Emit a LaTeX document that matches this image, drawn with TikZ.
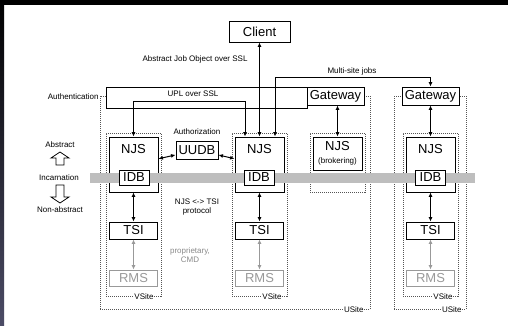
\documentclass[tikz,border=0pt]{standalone}
\usepackage{fontspec}
\setmainfont{Liberation Sans}
\usepackage{xcolor}
\usepackage{tikz}
\usetikzlibrary{arrows.meta,positioning,calc}
\definecolor{gris}{HTML}{555555}
\definecolor{grisrms}{HTML}{999999}
\definecolor{gristexto}{HTML}{8A8A8A}
\definecolor{banda}{HTML}{BEBEBE}
\definecolor{borde}{HTML}{4C4C66}
\tikzset{
  caja/.style={draw,fill=white,line width=0.9pt,inner sep=0pt,font=\fontsize{13}{14}\selectfont},
  cajagris/.style={caja,draw=grisrms,text=grisrms},
  zona/.style={draw=gris,line width=0.6pt,dash pattern=on 1pt off 1pt,inner sep=0pt},
  flecha/.style={{Latex[length=4.5pt,width=4pt]}-{Latex[length=4.5pt,width=4pt]},line width=1pt},
  flechagris/.style={flecha,grisrms},
  etiqueta/.style={font=\fontsize{8}{9}\selectfont,inner sep=1pt,align=center},
  etiquetazona/.style={etiqueta,fill=white,inner sep=0.5pt},
  grande/.style={font=\fontsize{13}{14}\selectfont,inner sep=0pt},
  bloque/.style={draw,line width=0.8pt,fill=white},
}

\begin{document}
\begin{tikzpicture}[x=1pt,y=-1pt]
  \useasboundingbox (0,0) rectangle (508,326);
  \fill[white] (0,0) rectangle (508,326);
  \fill[black] (0,0) rectangle (508,5);
  \shade[top color=black,bottom color=borde] (0,0) rectangle (4,326);

  % sites
  \node[zona,minimum width=270,minimum height=212.5] (us1) at (235,202.75) {};
  \node[zona,minimum width=72,minimum height=212.5] (us2) at (430,202.75) {};
  \node[zona,minimum width=55,minimum height=163] (vs1) at (133.5,214.5) {};
  \node[zona,minimum width=55,minimum height=163] (vs2) at (259.5,214.5) {};
  \node[zona,minimum width=55,minimum height=163] (vs3) at (430.5,214.5) {};
  \node[zona,minimum width=55,minimum height=59] (vsb) at (337.5,162.5) {};
  \node[etiquetazona,anchor=east] (lvs1) at ([xshift=-7pt]vs1.south east) {VSite};
  \node[etiquetazona,anchor=east] (lvs2) at ([xshift=-5pt]vs2.south east) {VSite};
  \node[etiquetazona,anchor=east] (lvs3) at ([xshift=-5pt]vs3.south east) {VSite};
  \node[etiquetazona,anchor=east] (lus1) at ([xshift=-6pt]us1.south east) {USite};
  \node[etiquetazona,anchor=east] (lus2) at ([xshift=-4pt]us2.south east) {USite};
  \node[etiqueta,anchor=east] (autent) at (us1.north west) {Authentication};

  % client and gateways
  \node[caja,minimum width=61,minimum height=21] (client) at (259.5,31.5) {Client};
  \node[caja,minimum width=201,minimum height=21] (upl) at (206.5,97.5) {};
  \node[etiqueta] (lupl) at (193,94) {UPL over SSL};
  \node[caja,minimum width=57,minimum height=18] (gw1) at (335.5,96) {Gateway};
  \node[caja,minimum width=57,minimum height=18] (gw2) at (430.5,96) {Gateway};
  \node[etiqueta] (ajo) at (195,59) {Abstract Job Object over SSL};
  \node[etiqueta] (multi) at (352,71) {Multi-site jobs};

  % NJS / TSI / RMS
  \node[caja,minimum width=49,minimum height=55] (njs1) at (133.5,164.5) {};
  \node[caja,minimum width=49,minimum height=55] (njs2) at (259.5,164.5) {};
  \node[caja,minimum width=49,minimum height=55] (njs3) at (430.5,164.5) {};
  \node[grande] (ljs1) at ([yshift=-12pt]njs1.north) {NJS};
  \node[grande] (ljs2) at ([yshift=-12pt]njs2.north) {NJS};
  \node[grande] (ljs3) at ([yshift=-12pt]njs3.north) {NJS};
  \node[caja,minimum width=49,minimum height=33,align=center] (njsb) at (337.5,153.5)
    {NJS\\[-1pt]{\fontsize{8}{9}\selectfont(brokering)}};
  \node[caja,minimum width=42,minimum height=18] (uudb) at (197,150) {UUDB};
  \node[etiqueta] (lauth) at (197,132) {Authorization};

  \fill[banda] (90,173) rectangle (475,183);
  \node[caja,minimum width=30,minimum height=15] (idb1) at (134,177.5) {IDB};
  \node[caja,minimum width=30,minimum height=15] (idb2) at (259,177.5) {IDB};
  \node[caja,minimum width=30,minimum height=15] (idb3) at (430.5,177.5) {IDB};

  \node[caja,minimum width=48,minimum height=17] (tsi1) at (133.5,230.5) {TSI};
  \node[caja,minimum width=48,minimum height=17] (tsi2) at (259.5,230.5) {TSI};
  \node[caja,minimum width=48,minimum height=17] (tsi3) at (430.5,230.5) {TSI};
  \node[cajagris,minimum width=48,minimum height=16] (rms1) at (133.5,278) {RMS};
  \node[cajagris,minimum width=48,minimum height=16] (rms2) at (259.5,278) {RMS};
  \node[cajagris,minimum width=48,minimum height=16] (rms3) at (430.5,278) {RMS};
  \node[etiqueta] (proto) at (197,207) {NJS <-> TSI\\protocol};
  \node[etiqueta,text=gristexto] (cmd) at (190,255) {proprietary,\\CMD};

  % abstraction levels
  \node[etiqueta] (abst) at (60,145) {Abstract};
  \node[etiqueta] (incar) at (59,178) {Incarnation};
  \node[etiqueta] (nonab) at (60,210) {Non-abstract};
  \draw[bloque] (56,165) -- (56,158) -- (51,158) -- (60,152) -- (69,158) -- (64,158) -- (64,165) -- cycle;
  \draw[bloque] (56,185) -- (56,197) -- (51,197) -- (60,203) -- (69,197) -- (64,197) -- (64,185) -- cycle;

  % connectors
  \draw[flecha] (client) -- (njs2);
  \draw[flecha] (njs1.north) -- ++(0,-35) -| ([xshift=-14.5pt]njs2.north);
  \draw[flecha] ([xshift=15.5pt]njs2.north) -- ++(0,-59) -| (gw2.north);
  \draw[flecha] (njsb.north) -- (njsb.north |- gw1.south);
  \draw[flecha] (gw2) -- (njs3);
  \draw[flecha] (njs1) -- (uudb);
  \draw[flecha] (uudb) -- (njs2);
  \draw[flecha] (njs1) -- (tsi1);
  \draw[flecha] (njs2) -- (tsi2);
  \draw[flecha] (njs3) -- (tsi3);
  \draw[flechagris] (tsi1) -- (rms1);
  \draw[flechagris] (tsi2) -- (rms2);
  \draw[flechagris] (tsi3) -- (rms3);
\end{tikzpicture}
\end{document}
